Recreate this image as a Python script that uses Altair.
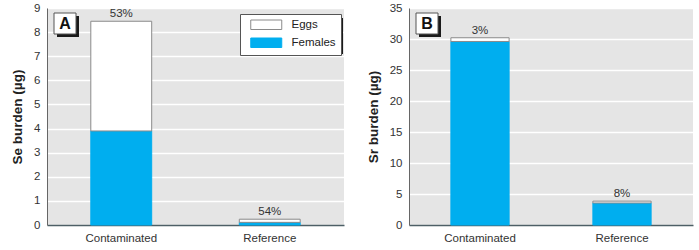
import altair as alt
import pandas as pd

categories = ["Contaminated", "Reference"]
se_females = [3.9, 0.11]
se_eggs = [4.55, 0.13]
se_pct = ["53%", "54%"]
sr_females = [29.6, 3.55]
sr_eggs = [0.6, 0.3]
sr_pct = ["3%", "8%"]

FONT = "Liberation Sans"
BLUE = "#00aeef"


def bars_df(fem, egg):
    rows = []
    for c, f, e in zip(categories, fem, egg):
        rows.append({"cat": c, "comp": "Females", "val": f, "ord": 0})
        rows.append({"cat": c, "comp": "Eggs", "val": e, "ord": 1})
    return pd.DataFrame(rows)


def tot_df(fem, egg, pct):
    return pd.DataFrame({"cat": categories,
                         "total": [f + e for f, e in zip(fem, egg)],
                         "pct": pct})


def panel(fem, egg, pct, ymax, ystep, ytitle, letter, width, show_legend):
    xaxis = alt.Axis(labelAngle=0, ticks=False, labelPadding=7,
                     domainColor="#4d5f66", domainWidth=1.3,
                     labelFontSize=11.5, labelColor="#333")
    xenc = alt.X("cat:N", sort=categories, title=None,
                 scale=alt.Scale(paddingInner=0.59, paddingOuter=0.295),
                 axis=xaxis)
    yscale = alt.Scale(domain=[0, ymax], nice=False)
    yaxis = alt.Axis(values=list(range(0, ymax + 1, ystep)), labelOverlap=False,
                     labelFlush=False,
                     ticks=False, labelPadding=7, titlePadding=9,
                     grid=True, gridColor="white", gridWidth=1.3,
                     domainColor="#666", labelFontSize=11.5,
                     labelColor="#333", titleFontSize=13.5,
                     titleFontWeight="bold", titleColor="#222")
    legend = alt.Legend(
        title=None, orient="none", legendX=193, legendY=6,
        symbolType="M0,-0.95H6.2V0.95H0Z", symbolSize=100,
        symbolStrokeColor="#666", symbolStrokeWidth=1,
        labelFontSize=11.5, labelColor="#222", labelOffset=35,
        fillColor="white", strokeColor="#555", padding=5,
        rowPadding=4, offset=0,
    ) if show_legend else None
    color = alt.Color("comp:N", scale=alt.Scale(domain=["Eggs", "Females"],
                                                range=["white", BLUE]),
                      legend=legend)
    bars = alt.Chart(bars_df(fem, egg)).mark_bar(strokeWidth=1).encode(
        x=xenc,
        y=alt.Y("val:Q", stack="zero", scale=yscale, title=ytitle, axis=yaxis),
        fill=color,
        stroke=alt.Stroke("comp:N", scale=alt.Scale(domain=["Eggs", "Females"],
                                                    range=["#8a8a8a", BLUE]),
                          legend=None),
        order=alt.Order("ord:Q"),
    )
    labels = alt.Chart(tot_df(fem, egg, pct)).mark_text(
        baseline="bottom", dy=-2, fontSize=11.5, color="#333"
    ).encode(x=alt.X("cat:N", sort=categories, title=None, axis=xaxis),
             y=alt.Y("total:Q", scale=yscale, title=ytitle, axis=yaxis),
             text="pct:N")
    one = pd.DataFrame({"k": [0]})
    shadow = alt.Chart(one).mark_rect(color="#1a1a1a").encode(
        x=alt.value(10), x2=alt.value(32), y=alt.value(8), y2=alt.value(29))
    box = alt.Chart(one).mark_rect(fill="white", stroke="#555", strokeWidth=1).encode(
        x=alt.value(7), x2=alt.value(29), y=alt.value(5), y2=alt.value(26))
    letter_t = alt.Chart(pd.DataFrame({"t": [letter]})).mark_text(
        fontSize=16, fontWeight="bold", color="#111", baseline="middle"
    ).encode(x=alt.value(18), y=alt.value(16), text="t:N")
    layers = [bars, labels, shadow, box, letter_t]
    if show_legend:
        lshadow = alt.Chart(one).mark_rect(color="#1a1a1a").encode(
            x=alt.value(197), x2=alt.value(296), y=alt.value(10), y2=alt.value(46))
        layers.insert(0, lshadow)
    return alt.layer(*layers).properties(width=width, height=217)


left = panel(se_females, se_eggs, se_pct, 9, 1, "Se burden (µg)", "A", 297, True)
right = panel(sr_females, sr_eggs, sr_pct, 35, 5, "Sr burden (µg)", "B", 284, False)

chart = alt.hconcat(left, right, spacing=22).resolve_scale(
    fill="independent", stroke="independent", x="independent", y="independent"
).properties(
    padding={"left": 10, "top": 2, "right": 2, "bottom": 2},
    background="white",
).configure(font=FONT).configure_view(fill="#e5e5e5", stroke=None)

chart.save("out.html", embed_options={"renderer": "svg", "actions": False})
